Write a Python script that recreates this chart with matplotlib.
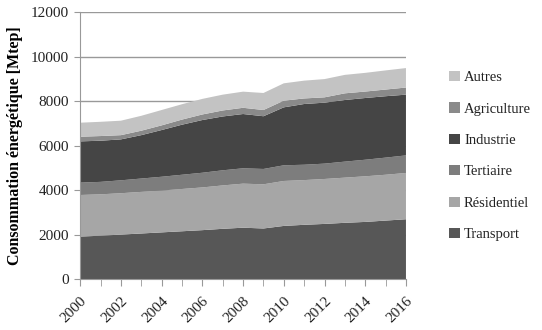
import matplotlib.pyplot as plt
import numpy as np
from matplotlib.patches import Patch

years = list(range(2000, 2017))

# consommation par secteur [Mtep]
transport = [1920, 1960, 2010, 2060, 2110, 2160, 2210, 2270, 2320, 2285, 2400, 2450, 2490, 2540, 2580, 2640, 2700]
residentiel = [1870, 1860, 1860, 1870, 1880, 1900, 1920, 1950, 1980, 1985, 2020, 2010, 2020, 2030, 2050, 2060, 2080]
tertiaire = [555, 560, 580, 600, 620, 640, 660, 680, 690, 690, 705, 690, 690, 720, 745, 770, 790]
industrie = [1855, 1850, 1840, 1950, 2100, 2250, 2370, 2420, 2440, 2370, 2605, 2730, 2740, 2770, 2775, 2760, 2730]
agriculture = [210, 210, 190, 200, 210, 230, 250, 270, 280, 280, 300, 250, 240, 300, 290, 300, 320]
autres = [630, 640, 650, 670, 690, 690, 700, 710, 725, 765, 780, 800, 820, 830, 840, 860, 875]

labels = ["Transport", "Résidentiel", "Tertiaire", "Industrie", "Agriculture", "Autres"]
colors = ["#575757", "#a6a6a6", "#7d7d7d", "#454545", "#8a8a8a", "#c3c3c3"]

plt.rcParams['font.family'] = ['Liberation Serif', 'DejaVu Serif']

fig = plt.figure(figsize=(5.42, 3.30), dpi=100)
ax = fig.add_axes([0.148, 0.1536, 0.601, 0.809])

ax.stackplot(years, transport, residentiel, tertiaire, industrie, agriculture, autres,
             colors=colors, linewidth=0, zorder=2)

ax.set_xlim(2000, 2016)
ax.set_ylim(0, 12000)
ax.set_yticks(np.arange(0, 12001, 2000))
ax.set_xticks(years, minor=True)
ax.set_xticks(range(2000, 2017, 2))
ax.set_xticklabels([str(y) for y in range(2000, 2017, 2)], rotation=45, ha='right',
                   rotation_mode='anchor', fontsize=11)
ax.tick_params(axis='y', labelsize=11, length=4, color='#999999', pad=4, labelcolor='#222222')
ax.tick_params(axis='x', which='both', length=5, color='#999999', pad=6, labelcolor='#222222')
ax.yaxis.grid(True, color='#999999', linewidth=1, zorder=0)
ax.set_axisbelow(True)

for s in ['top', 'right']:
    ax.spines[s].set_visible(False)
for s in ['left', 'bottom']:
    ax.spines[s].set_color('#999999')

ax.set_ylabel("Consommation énergétique [Mtep]", fontsize=11.5, fontweight='bold', labelpad=6)

handles = [Patch(facecolor=c, edgecolor='none') for c in colors][::-1]
fig.legend(handles, labels[::-1], loc='upper left', bbox_to_anchor=(0.805, 0.825),
           frameon=False, fontsize=10.5, labelspacing=1.25, handlelength=0.7,
           handleheight=0.7, handletextpad=0.3, labelcolor='#222222')

fig.savefig("out.png", dpi=100)
